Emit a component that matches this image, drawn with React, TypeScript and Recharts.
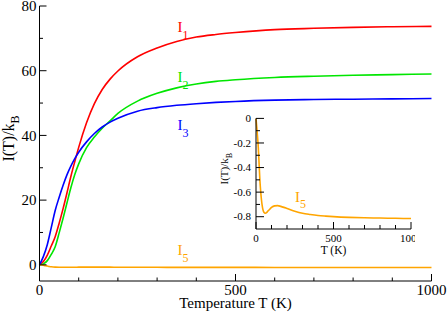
import React from 'react';
import { LineChart, Line, XAxis, YAxis, ReferenceDot, CartesianGrid } from 'recharts';

// Temperature grid (K) for I1, I2, I3
const temps = [0, 10, 20, 30, 40, 50, 60, 70, 80, 90, 100, 120, 140, 160, 180, 200, 250, 300, 350, 400, 450, 500, 600, 700, 800, 900, 1000];
const i1 = [0, 1.0, 3.0, 5.8, 8.7, 12.8, 17.3, 22.2, 27.3, 31.9, 36.3, 43.9, 49.8, 54.2, 57.4, 59.9, 64.3, 67.0, 69.0, 70.4, 71.2, 71.8, 72.7, 73.1, 73.4, 73.6, 73.7];
const i2 = [0, 0.3, 1.3, 3.2, 5.6, 9.8, 14.3, 19.1, 23.8, 27.9, 31.2, 36.2, 39.5, 42.2, 44.5, 46.8, 50.6, 53.0, 54.7, 55.9, 56.7, 57.2, 57.9, 58.3, 58.6, 58.8, 59.0];
const i3 = [0, 2.6, 6.3, 11.5, 16.8, 20.8, 24.5, 27.8, 30.5, 32.8, 34.8, 38.0, 40.6, 42.6, 44.1, 45.3, 47.5, 48.6, 49.3, 49.8, 50.2, 50.5, 50.9, 51.1, 51.2, 51.3, 51.4];

// I5 on its own finer grid
const tempsI5 = [0, 5, 10, 15, 20, 25, 30, 35, 40, 50, 60, 70, 80, 90, 100, 120, 140, 160, 180, 200, 250, 300, 350, 400, 450, 500, 600, 700, 800, 900, 1000];
const i5 = [0, -0.07, -0.15, -0.24, -0.37, -0.5, -0.59, -0.66, -0.71, -0.762, -0.772, -0.765, -0.75, -0.737, -0.725, -0.712, -0.71, -0.716, -0.724, -0.733, -0.755, -0.772, -0.782, -0.79, -0.795, -0.799, -0.805, -0.809, -0.811, -0.813, -0.815];

// Ticks
const mainXTicks = [0, 100, 200, 300, 400, 500, 600, 700, 800, 900, 1000];
const mainXMajor = [0, 500, 1000];
const mainYTicks = [0, 10, 20, 30, 40, 50, 60, 70, 80];
const mainYMajor = [0, 20, 40, 60, 80];
const insetXTicks = [0, 100, 200, 300, 400, 500, 600, 700, 800, 900, 1000];
const insetXMajor = [0, 500, 1000];
const insetYTicks = [0, -0.1, -0.2, -0.3, -0.4, -0.5, -0.6, -0.7, -0.8];
const insetYMajor = [0, -0.2, -0.4, -0.6, -0.8];

// Curve labels: [main, sub, colour, T, value]
const mainLabels: [string, string, string, number, number][] = [
  ['I', '1', '#ff0000', 352, 71.9],
  ['I', '2', '#00e600', 352, 56.5],
  ['I', '3', '#0000ff', 352, 41.7],
  ['I', '5', '#ffa500', 352, 2.9],
];

const mainData = temps.map((t, k) => ({ T: t, i1: i1[k], i2: i2[k], i3: i3[k] }));
const i5Data = tempsI5.map((t, k) => ({ T: t, i5: i5[k] }));

const FONT = 'Liberation Serif, DejaVu Serif, serif';

const isMajor = (majors: number[], v: number) => majors.some((m) => Math.abs(m - v) < 1e-9);

const txt = (fs: number) => ({ fontFamily: FONT, fontSize: fs });

function makeTick(
  side: 'bottom' | 'left' | 'top' | 'right',
  majors: number[],
  majLen: number,
  minLen: number,
  fontSize: number,
  gap: number,
  fmt?: (v: number) => string,
) {
  return (props: any) => {
    const { x, y, payload } = props;
    const v = payload.value as number;
    const major = isMajor(majors, v);
    const len = major ? majLen : minLen;
    const lbl = fmt ? fmt(v) : String(v);
    if (side === 'bottom') {
      return (
        <g>
          <line x1={x} x2={x} y1={y} y2={y - len} stroke="#000" strokeWidth={1} />
          {major && (
            <text x={x} y={y + gap} textAnchor="middle" style={txt(fontSize)} fill="#000">
              {lbl}
            </text>
          )}
        </g>
      );
    }
    if (side === 'left') {
      return (
        <g>
          <line x1={x} x2={x + len} y1={y} y2={y} stroke="#000" strokeWidth={1} />
          {major && (
            <text x={x - gap} y={y + fontSize * 0.34} textAnchor="end" style={txt(fontSize)} fill="#000">
              {lbl}
            </text>
          )}
        </g>
      );
    }
    if (side === 'top') {
      return <line x1={x} x2={x} y1={y} y2={y + len} stroke="#000" strokeWidth={1} />;
    }
    return <line x1={x} x2={x - len} y1={y} y2={y} stroke="#000" strokeWidth={1} />;
  };
}

const CurveLabel = (main: string, sub: string, color: string, fs: number, subFs: number, dy: number) => (p: any) => (
  <text x={p.cx} y={p.cy} fill={color} style={txt(fs)}>
    <tspan>{main}</tspan>
    <tspan dy={dy} style={{ fontSize: subFs }}>{sub}</tspan>
  </text>
);

const fmtInset = (v: number) => (v === 0 ? '0' : v.toFixed(1));

export default function App() {
  return (
    <div style={{ position: 'absolute', left: 0, top: 0, width: 447, height: 314, background: '#fff' }}>
      <LineChart width={447} height={314} margin={{ top: 6, right: 15.5, bottom: 0, left: 0 }}>
        <XAxis
          dataKey="T"
          type="number"
          domain={[0, 1000]}
          ticks={mainXTicks}
          interval={0}
          height={33}
          tickSize={0}
          tickMargin={0}
          tickLine={false}
          axisLine={{ stroke: '#000', strokeWidth: 1 }}
          tick={makeTick('bottom', mainXMajor, 7, 3.5, 15, 14)}
          label={{
            content: (p: any) => {
              const vb = p.viewBox;
              return (
                <text x={vb.x + vb.width / 2} y={vb.y + 27} textAnchor="middle" style={txt(15)} fill="#000">
                  Temperature T (K)
                </text>
              );
            },
          }}
        />
        <XAxis
          xAxisId="top"
          orientation="top"
          type="number"
          domain={[0, 1000]}
          ticks={mainXTicks}
          interval={0}
          height={0}
          tickSize={0}
          tickMargin={0}
          tickLine={false}
          axisLine={{ stroke: '#000', strokeWidth: 1 }}
          tick={makeTick('top', mainXMajor, 7, 3.5, 15, 0)}
        />
        <YAxis
          type="number"
          domain={[-5, 80]}
          allowDataOverflow
          ticks={mainYTicks}
          interval={0}
          width={39.5}
          tickSize={0}
          tickMargin={0}
          tickLine={false}
          axisLine={{ stroke: '#000', strokeWidth: 1 }}
          tick={makeTick('left', mainYMajor, 7, 3.5, 15, 3)}
          label={{
            content: (p: any) => {
              const vb = p.viewBox;
              const cx = vb.x + 14;
              const cy = vb.y + vb.height / 2 - 5;
              return (
                <text x={cx} y={cy} textAnchor="middle" transform={`rotate(-90 ${cx} ${cy})`} style={txt(16)} fill="#000">
                  <tspan>I(T)/k</tspan>
                  <tspan dy={5} style={{ fontSize: 12 }}>B</tspan>
                </text>
              );
            },
          }}
        />
        <YAxis
          yAxisId="right"
          orientation="right"
          type="number"
          domain={[-5, 80]}
          ticks={mainYTicks}
          interval={0}
          width={0}
          tickSize={0}
          tickMargin={0}
          tickLine={false}
          axisLine={{ stroke: '#000', strokeWidth: 1 }}
          tick={makeTick('right', mainYMajor, 7, 3.5, 15, 0)}
        />
        <Line data={mainData} dataKey="i1" type="monotone" stroke="#ff0000" strokeWidth={1.6} dot={false} isAnimationActive={false} />
        <Line data={mainData} dataKey="i2" type="monotone" stroke="#00e600" strokeWidth={1.6} dot={false} isAnimationActive={false} />
        <Line data={mainData} dataKey="i3" type="monotone" stroke="#0000ff" strokeWidth={1.6} dot={false} isAnimationActive={false} />
        <Line data={i5Data} dataKey="i5" type="monotone" stroke="#ffa500" strokeWidth={1.6} dot={false} isAnimationActive={false} />
        {mainLabels.map(([m, s, c, t, v]) => (
          <ReferenceDot key={s} x={t} y={v} r={0} shape={CurveLabel(m, s, c, 15, 12, 7)} />
        ))}
      </LineChart>

      <div style={{ position: 'absolute', left: 215, top: 112, width: 200, height: 150 }}>
        <LineChart width={200} height={150} margin={{ top: 6.4, right: 4, bottom: 0, left: 0 }}>
          <CartesianGrid horizontal={false} vertical={false} fill="#fff" />
          <XAxis
            dataKey="T"
            type="number"
            domain={[0, 1000]}
            ticks={insetXTicks}
            interval={0}
            height={33}
            tickSize={0}
            tickMargin={0}
            tickLine={false}
            axisLine={{ stroke: '#000', strokeWidth: 1 }}
            tick={makeTick('bottom', insetXMajor, 7, 4, 11, 12.5)}
            label={{
              content: (p: any) => {
                const vb = p.viewBox;
                return (
                  <text x={vb.x + vb.width / 2} y={vb.y + 25} textAnchor="middle" style={txt(11.5)} fill="#000">
                    T (K)
                  </text>
                );
              },
            }}
          />
          <XAxis
            xAxisId="top"
            orientation="top"
            type="number"
            domain={[0, 1000]}
            ticks={insetXTicks}
            interval={0}
            height={0}
            tickSize={0}
            tickMargin={0}
            tickLine={false}
            axisLine={{ stroke: '#000', strokeWidth: 1 }}
            tick={makeTick('top', insetXMajor, 7, 4, 10, 0)}
          />
          <YAxis
            type="number"
            domain={[-0.9, 0]}
            allowDataOverflow
            ticks={insetYTicks}
            interval={0}
            width={41}
            tickSize={0}
            tickMargin={0}
            tickLine={false}
            axisLine={{ stroke: '#000', strokeWidth: 1 }}
            tick={makeTick('left', insetYMajor, 8, 4, 11, 5, fmtInset)}
            label={{
              content: (p: any) => {
                const vb = p.viewBox;
                const cx = vb.x + 13;
                const cy = vb.y + vb.height / 2 - 5;
                return (
                  <text x={cx} y={cy} textAnchor="middle" transform={`rotate(-90 ${cx} ${cy})`} style={txt(11)} fill="#000">
                    <tspan>I(T)/k</tspan>
                    <tspan dy={4} style={{ fontSize: 8 }}>B</tspan>
                  </text>
                );
              },
            }}
          />
          <YAxis
            yAxisId="right"
            orientation="right"
            type="number"
            domain={[-0.9, 0]}
            ticks={insetYTicks}
            interval={0}
            width={0}
            tickSize={0}
            tickMargin={0}
            tickLine={false}
            axisLine={{ stroke: '#000', strokeWidth: 1 }}
            tick={makeTick('right', insetYMajor, 8, 4, 10, 0)}
          />
          <Line data={i5Data} dataKey="i5" type="monotone" stroke="#ffa500" strokeWidth={1.6} dot={false} isAnimationActive={false} />
          <ReferenceDot x={252} y={-0.682} r={0} shape={CurveLabel('I', '5', '#ffa500', 15, 12, 6)} />
        </LineChart>
      </div>
    </div>
  );
}
